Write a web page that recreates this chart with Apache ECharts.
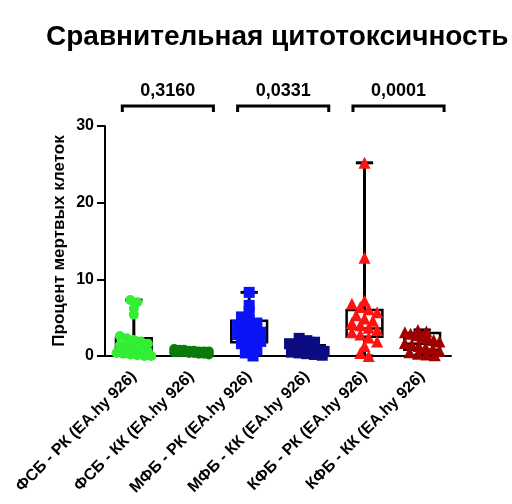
<!DOCTYPE html>
<html>
<head>
<meta charset="utf-8">
<script src="https://cdn.jsdelivr.net/npm/echarts@6/dist/echarts.min.js"></script>
<style>
  html, body { margin: 0; padding: 0; background: #fff; }
  #chart { width: 512px; height: 504px; }
</style>
</head>
<body>
<div id="chart"></div>
<script>
// Groups along the x axis
const categories = [
  'ФСБ - РК (EA.hy 926)',
  'ФСБ - КК (EA.hy 926)',
  'МФБ - РК (EA.hy 926)',
  'МФБ - КК (EA.hy 926)',
  'КФБ - РК (EA.hy 926)',
  'КФБ - КК (EA.hy 926)'
];

// Individual measurements (% dead cells) per group
const fsbRk = [7.3, 7.0, 6.2, 5.4, 2.6, 2.3, 2.1, 1.9, 1.6, 1.4, 1.2, 1.0, 0.8, 0.6, 0.4, 0.3, 0.2, 0.1, 0.0, 0.0];
const fsbKk = [0.9, 0.8, 0.8, 0.7, 0.7, 0.6, 0.6, 0.6, 0.5, 0.5, 0.5, 0.4, 0.4, 0.3, 0.3, 0.2];
const mfbRk = [8.3, 6.6, 5.8, 5.1, 4.6, 4.3, 4.0, 3.7, 3.4, 3.1, 2.8, 2.5, 2.2, 1.9, 1.6, 1.2, 0.8, 0.4, 0.0];
const mfbKk = [2.3, 2.0, 1.8, 1.6, 1.5, 1.3, 1.2, 1.1, 1.0, 0.9, 0.8, 0.7, 0.6, 0.5, 0.4, 0.3, 0.2, 0.1];
const kfbRk = [25.2, 12.8, 7.2, 6.8, 6.4, 6.1, 5.7, 5.3, 4.9, 4.6, 4.3, 4.0, 3.7, 3.4, 3.1, 2.8, 2.4, 1.9, 1.3, 0.4, 0.0];
const kfbKk = [3.4, 3.2, 3.1, 2.9, 2.7, 2.5, 2.3, 2.1, 1.9, 1.7, 1.5, 1.3, 1.1, 0.9, 0.7, 0.5, 0.3, 0.2, 0.1];
const groupValues = [fsbRk, fsbKk, mfbRk, mfbKk, kfbRk, kfbKk];

// Box summaries: [min, Q1, median, Q3, max]
const boxStats = [
  [0.0, 0.2, 1.1, 2.3, 7.3],
  [0.2, 0.4, 0.55, 0.7, 0.9],
  [0.0, 1.8, 3.3, 4.6, 8.3],
  [0.1, 0.5, 0.9, 1.4, 2.3],
  [0.0, 2.5, 3.6, 6.0, 25.2],
  [0.1, 0.8, 1.6, 3.0, 3.4]
];

// Pairwise comparisons and their p-values
const comparePairs = [[0, 1], [2, 3], [4, 5]];
const pValues = ['0,3160', '0,0331', '0,0001'];

// Y axis ticks
const yTicks = [0, 10, 20, 30];

const colors = ['#33ee33', '#0b7a0b', '#0a14f5', '#0b0b82', '#ff1212', '#a00000'];
const symbols = ['circle', 'circle', 'rect', 'rect', 'triangle', 'triangle'];
const symbolSizes = [10, 10, 11, 11, 12, 12];

const FONT = '"Liberation Sans", Arial, sans-serif';

const chart = echarts.init(document.getElementById('chart'), null, { renderer: 'canvas' });

function boxItem(params, api) {
  const x = api.value(0);
  const mn = api.value(1), q1 = api.value(2), md = api.value(3), q3 = api.value(4), mx = api.value(5);
  const unit = api.size([1, 0])[0];
  const halfBox = unit * 0.31;
  const halfCap = unit * 0.15;
  const pMin = api.coord([x, mn]);
  const pQ1 = api.coord([x, q1]);
  const pMd = api.coord([x, md]);
  const pQ3 = api.coord([x, q3]);
  const pMax = api.coord([x, mx]);
  const cx = pMd[0];
  return {
    type: 'group',
    children: [
      { type: 'line', shape: { x1: cx, y1: pQ3[1], x2: cx, y2: pMax[1] }, style: { stroke: '#000', lineWidth: 3 } },
      { type: 'line', shape: { x1: cx - halfCap, y1: pMax[1], x2: cx + halfCap, y2: pMax[1] }, style: { stroke: '#000', lineWidth: 3 } },
      { type: 'line', shape: { x1: cx, y1: pQ1[1], x2: cx, y2: pMin[1] }, style: { stroke: '#000', lineWidth: 3 } },
      { type: 'line', shape: { x1: cx - halfCap, y1: pMin[1], x2: cx + halfCap, y2: pMin[1] }, style: { stroke: '#000', lineWidth: 3 } },
      { type: 'rect', shape: { x: cx - halfBox, y: pQ3[1], width: halfBox * 2, height: pQ1[1] - pQ3[1] }, style: { stroke: '#000', lineWidth: 2.5, fill: 'rgba(255,255,255,0)' } },
      { type: 'line', shape: { x1: cx - halfBox, y1: pMd[1], x2: cx + halfBox, y2: pMd[1] }, style: { stroke: '#000', lineWidth: 2.5 } }
    ]
  };
}

function bracketItem(params, api) {
  const a = api.value(0), b = api.value(1);
  const unit = api.size([1, 0])[0];
  const top = api.coord([a, yTicks[yTicks.length - 1]])[1];
  const y = top - 20;
  const x1 = api.coord([a, 0])[0] - unit * 0.2;
  const x2 = api.coord([b, 0])[0] + unit * 0.38;
  return {
    type: 'group',
    children: [
      { type: 'polyline', shape: { points: [[x1, y + 6], [x1, y], [x2, y], [x2, y + 6]] }, style: { stroke: '#000', lineWidth: 3, fill: null } },
      { type: 'text', style: { x: (x1 + x2) / 2, y: y - 6, text: pValues[params.dataIndex], font: 'bold 18px ' + FONT, fill: '#000', align: 'center', verticalAlign: 'bottom' } }
    ]
  };
}

const baseSeries = [
  {
    type: 'custom',
    xAxisIndex: 1,
    yAxisIndex: 0,
    z: 2,
    renderItem: boxItem,
    data: boxStats.map((s, i) => [i].concat(s)),
    silent: true
  },
  {
    type: 'custom',
    xAxisIndex: 1,
    yAxisIndex: 0,
    clip: false,
    renderItem: bracketItem,
    data: comparePairs,
    silent: true
  }
];

function scatterSeries(dataFor) {
  return groupValues.map((vals, g) => ({
    type: 'scatter',
    xAxisIndex: 1,
    yAxisIndex: 0,
    z: 3,
    symbol: symbols[g],
    symbolSize: symbolSizes[g],
    itemStyle: { color: colors[g], opacity: 1 },
    data: dataFor(vals, g),
    silent: true
  }));
}

const option = {
  animation: false,
  title: {
    text: 'Сравнительная цитотоксичность',
    left: 41,
    top: 18,
    textStyle: { fontFamily: FONT, fontWeight: 'bold', fontSize: 28, color: '#000' }
  },
  grid: { left: 105, right: 61, top: 126, bottom: 148 },
  xAxis: [
    {
      type: 'category',
      data: categories,
      boundaryGap: true,
      axisLine: { lineStyle: { color: '#000', width: 2 } },
      axisTick: { alignWithLabel: true, length: 6, lineStyle: { color: '#000', width: 2 } },
      axisLabel: { interval: 0, rotate: 45, margin: 18, color: '#000', fontFamily: FONT, fontWeight: 'bold', fontSize: 16 }
    },
    { type: 'value', min: -0.5, max: 5.5, show: false }
  ],
  yAxis: {
    type: 'value',
    min: yTicks[0],
    max: yTicks[yTicks.length - 1],
    interval: 10,
    name: 'Процент мертвых клеток',
    nameLocation: 'middle',
    nameGap: 37,
    nameMoveOverlap: false,
    nameTextStyle: { fontFamily: FONT, fontWeight: 'bold', fontSize: 17, color: '#000' },
    axisLine: { show: true, onZero: false, lineStyle: { color: '#000', width: 2 } },
    axisTick: { show: true, length: 8, lineStyle: { color: '#000', width: 2 } },
    axisLabel: { color: '#000', fontFamily: FONT, fontWeight: 'bold', fontSize: 16, margin: 11 },
    splitLine: { show: false }
  },
  series: baseSeries.concat(scatterSeries(() => []))
};
chart.setOption(option);

// Lay points out in horizontal rows (binned by pixel height), spread within the box width
const finder = { xAxisIndex: 1, yAxisIndex: 0 };
const p00 = chart.convertToPixel(finder, [0, 0]);
const p11 = chart.convertToPixel(finder, [1, 1]);
const pxPerX = Math.abs(p11[0] - p00[0]);
const pxPerY = Math.abs(p11[1] - p00[1]);

function swarm(vals, g) {
  const size = symbolSizes[g];
  const rowH = size * 0.8;
  const maxHalf = pxPerX * 0.3;
  const rows = {};
  vals.forEach(v => {
    const r = Math.round(v * pxPerY / rowH);
    (rows[r] = rows[r] || []).push(v);
  });
  const out = [];
  Object.keys(rows).forEach(r => {
    const row = rows[r];
    const n = row.length;
    const step = n > 1 ? Math.min(size * 0.7, (2 * maxHalf) / (n - 1)) : 0;
    row.forEach((v, i) => {
      const off = (i - (n - 1) / 2) * step;
      out.push([g + off / pxPerX, v]);
    });
  });
  return out;
}

option.series = baseSeries.concat(scatterSeries(swarm));
chart.setOption(option, true);
</script>
</body>
</html>
